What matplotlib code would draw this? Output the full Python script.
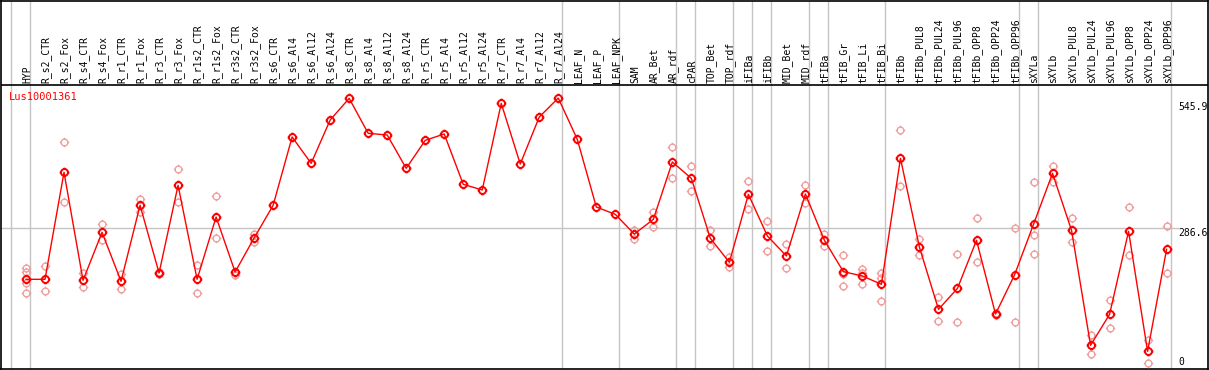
import numpy as np
import matplotlib
matplotlib.use("Agg")
import matplotlib.pyplot as plt
from matplotlib.path import Path

# sample names (columns)
cats = ["HYP", "R_s2_CTR", "R_s2_Fox", "R_s4_CTR", "R_s4_Fox", "R_r1_CTR", "R_r1_Fox",
        "R_r3_CTR", "R_r3_Fox", "R_r1s2_CTR", "R_r1s2_Fox", "R_r3s2_CTR", "R_r3s2_Fox",
        "R_s6_CTR", "R_s6_Al4", "R_s6_Al12", "R_s6_Al24", "R_s8_CTR", "R_s8_Al4",
        "R_s8_Al12", "R_s8_Al24", "R_r5_CTR", "R_r5_Al4", "R_r5_Al12", "R_r5_Al24",
        "R_r7_CTR", "R_r7_Al4", "R_r7_Al12", "R_r7_Al24", "LEAF_N", "LEAF_P", "LEAF_NPK",
        "SAM", "AR_Bet", "AR_rdf", "cPAR", "TOP_Bet", "TOP_rdf", "iFIBa", "iFIBb",
        "MID_Bet", "MID_rdf", "tFIBa", "tFIB_Gr", "tFIB_Li", "tFIB_Bi", "tFIBb",
        "tFIBb_PUL8", "tFIBb_PUL24", "tFIBb_PUL96", "tFIBb_OPP8", "tFIBb_OPP24",
        "tFIBb_OPP96", "sXYLa", "sXYLb", "sXYLb_PUL8", "sXYLb_PUL24", "sXYLb_PUL96",
        "sXYLb_OPP8", "sXYLb_OPP24", "sXYLb_OPP96"]

# mean expression
means = [184.3, 184.3, 397.7, 182.3, 278.0, 180.3, 331.9, 196.9, 371.8, 184.3, 308.6,
         198.9, 266.7, 331.9, 468.2, 415.7, 502.1, 545.3, 475.5, 472.2, 405.7, 461.5,
         474.2, 373.8, 362.5, 535.3, 414.3, 508.1, 545.9, 463.5, 328.5, 313.9, 274.7,
         303.9, 418.3, 385.7, 266.0, 218.2, 353.8, 270.7, 230.8, 354.5, 262.1, 199.5,
         190.9, 174.3, 425.6, 248.1, 124.4, 166.3, 262.1, 115.1, 192.9, 294.0, 395.7,
         282.0, 52.6, 114.4, 280.0, 40.6, 244.1]

# replicate values
reps = [[205.9, 197.9, 176.9, 157.0], [210.9, 160.3], [457.5, 337.9], [196.2, 169.6],
        [294.0, 262.7], [194.2, 165.6], [344.5, 319.2], [199.5, 194.2], [403.7, 337.9],
        [212.2, 156.3], [349.8, 266.0], [199.5, 192.9], [274.0, 258.7],
        [], [], [], [], [], [], [], [], [], [], [], [], [], [], [], [], [], [], [],
        [282.7, 264.0], [318.6, 289.3], [447.6, 385.7], [409.7, 359.8], [282.7, 250.1],
        [229.5, 209.5], [380.4, 325.2], [300.6, 240.1], [254.7, 206.2], [372.4, 337.2],
        [274.7, 251.4], [232.1, 194.9, 170.3], [204.2, 196.9, 174.3],
        [196.2, 186.3, 140.4], [481.5, 369.8], [264.0, 232.1], [148.4, 100.5],
        [234.8, 98.5], [305.9, 218.2], [116.4, 113.7], [286.0, 98.5],
        [377.8, 272.0, 234.8], [409.7, 378.4], [305.9, 258.1], [72.6, 34.6],
        [143.0, 86.5], [327.9, 232.1], [63.2, 16.7], [290.0, 196.9]]

# group boundaries (after these indices)
group_ends = [-1, 0, 28, 31, 34, 35, 37, 38, 39, 41, 42, 45, 52, 53, 60]

title = "Lus10001361"
ytick_vals = ["545.9", "286.6", "0"]

W, H = 1209, 370
fig = plt.figure(figsize=(W / 100, H / 100), dpi=100)
ax = fig.add_axes([1 / W, 1 / H, 1207 / W, 368.5 / H])

step = 19.01
ax.set_xlim((1 - 26) / step, (1208 - 26) / step)
scale = 0.5013
ax.set_ylim((371.7 - 369) / scale, (371.7 - 0.5) / scale)
ax.set_xticks([])
ax.set_yticks([])
for s in ax.spines.values():
    s.set_color("black")
    s.set_linewidth(1.2)

mono = "DejaVu Sans Mono"
grey = "#c4c4c4"

# header separator
header_val = (371.7 - 85) / scale
ax.axhline(header_val, color="black", lw=1.2, zorder=3)

for g in group_ends:
    ax.axvline(g + 4 / step, color=grey, lw=1.0, zorder=1)
ax.plot([ax.get_xlim()[0], (1178 - 26) / step], [286.6, 286.6], color=grey, lw=1.0, zorder=1)

# marker: circle with four small ticks
circ = Path.unit_circle()
verts = list(circ.vertices)
codes = list(circ.codes)
for (a, b) in [((1, 0), (1.4, 0)), ((-1, 0), (-1.4, 0)), ((0, 1), (0, 1.4)), ((0, -1), (0, -1.4))]:
    verts += [a, b]
    codes += [Path.MOVETO, Path.LINETO]
tick_circle = Path(verts, codes)

x = np.arange(len(cats))
rx = [i for i, r in enumerate(reps) for _ in r]
ry = [v for r in reps for v in r]
ax.plot(rx, ry, linestyle="none", marker=tick_circle, markersize=6.8,
        markerfacecolor="none", markeredgecolor="#f0a0a0", markeredgewidth=1.0, zorder=4)
ax.plot(x, means, color="#ff0000", lw=1.0, zorder=5)
ax.plot(x, means, linestyle="none", marker=tick_circle, markersize=7.0,
        markerfacecolor="none", markeredgecolor="#ff0000", markeredgewidth=1.4, zorder=6)

# column labels
lab_y = (369 - 83) / 368.5
for i, c in enumerate(cats):
    ax.text(i + 0.05, lab_y, c, rotation=90, ha="center", va="bottom", fontsize=7,
            family=mono, transform=ax.get_xaxis_transform(), clip_on=False)

ax.text((9 - 1) / 1207, (369 - 97) / 368.5, title, color="#ff0000", fontsize=7.5,
        family=mono, ha="left", va="center", transform=ax.transAxes)

for lab, py in zip(ytick_vals, [106.7, 232.7, 361.7]):
    ax.text((1178 - 1) / 1207, (369 - py) / 368.5, lab, fontsize=7, family=mono,
            ha="left", va="center", transform=ax.transAxes)

fig.savefig("out.png", dpi=100)
